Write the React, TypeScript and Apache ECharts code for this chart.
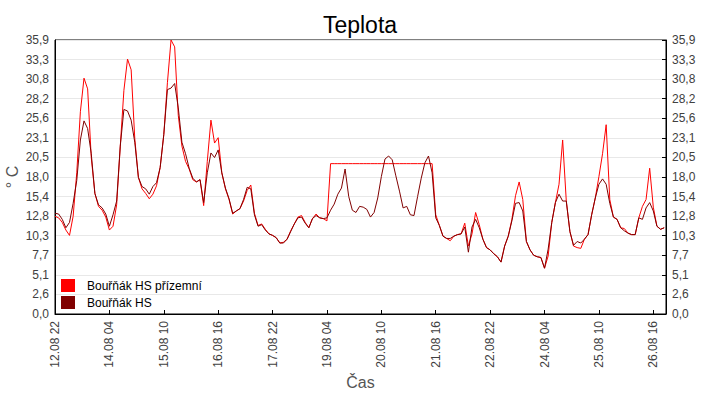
import React, { useEffect, useRef } from 'react'
import * as echarts from 'echarts'

// one reading every 2 hours, first one 12.08 22:00
const STEP_H = 2

const seriesNames = ['Bouřňák HS přízemní', 'Bouřňák HS']
const seriesColors = ['#ff0000', '#800000']

const xTickLabels = [
  '12.08 22', '14.08 04', '15.08 10', '16.08 16', '17.08 22', '19.08 04',
  '20.08 10', '21.08 16', '22.08 22', '24.08 04', '25.08 10', '26.08 16'
]

// Bouřňák HS přízemní
const groundTemp = [
  12.8, 12.6, 12.0, 11.0, 10.3, 12.8, 18.5, 26.5, 30.9, 29.5,
  20.5, 15.8, 14.1, 13.6, 12.7, 11.0, 11.5, 14.3, 22.0, 29.3,
  33.4, 32.0, 23.0, 17.9, 16.4, 15.8, 15.1, 15.7, 16.8, 19.2,
  23.5, 30.3, 35.9, 35.0, 26.0, 22.0, 20.0, 19.0, 17.6, 17.3,
  17.6, 14.2, 20.0, 25.4, 22.4, 23.1, 18.5, 16.4, 15.0, 13.1,
  13.5, 13.8, 14.8, 16.2, 16.9, 13.2, 11.6, 11.8, 11.1, 10.5,
  10.3, 10.0, 9.3, 9.4, 9.8, 10.9, 11.8, 12.7, 12.9, 12.0,
  11.3, 12.5, 13.1, 12.6, 12.5, 12.2, 19.7, 19.7, 19.7, 19.7,
  19.7, 19.7, 19.7, 19.7, 19.7, 19.7, 19.7, 19.7, 19.7, 19.7,
  19.7, 19.7, 19.7, 19.7, 19.7, 19.7, 19.7, 19.7, 19.7, 19.7,
  19.7, 19.7, 19.7, 19.7, 19.7, 13.0, 11.6, 10.2, 9.9, 9.6,
  10.2, 10.4, 10.5, 11.9, 8.9, 10.5, 13.3, 11.7, 9.8, 8.7,
  8.4, 7.9, 7.5, 6.8, 8.9, 10.2, 12.4, 15.5, 17.3, 15.0,
  9.5, 8.4, 7.7, 7.5, 7.4, 6.0, 7.6, 12.0, 14.6, 17.0,
  22.8, 14.8, 10.8, 8.9, 8.7, 8.6, 9.8, 10.4, 13.0, 15.2,
  18.0, 21.0, 24.8, 15.0, 12.7, 12.4, 11.3, 11.2, 10.6, 10.4,
  10.4, 12.6, 14.1, 15.0, 19.1, 14.0, 11.5, 11.1, 11.3
]

// Bouřňák HS
const hsTemp = [
  13.2, 13.1, 12.4, 11.3, 12.0, 14.5, 17.5, 22.8, 25.3, 24.3,
  21.0, 15.8, 14.3, 13.9, 13.1, 11.5, 13.0, 14.8, 22.0, 26.8,
  26.6, 25.4, 22.5, 17.9, 16.7, 16.4, 15.7, 16.7, 17.2, 19.2,
  23.5, 29.4, 29.6, 30.2, 27.0, 22.5, 21.0, 19.1, 17.8, 17.3,
  17.6, 14.6, 18.5, 21.1, 20.5, 21.5, 18.5, 16.5, 15.1, 13.2,
  13.5, 13.8, 15.0, 16.6, 16.4, 13.0, 11.5, 11.7, 11.0, 10.5,
  10.3, 10.0, 9.3, 9.3, 9.8, 10.8, 11.8, 12.6, 12.7, 11.9,
  11.3, 12.5, 12.9, 12.6, 12.5, 12.6, 13.6, 14.4, 15.7, 16.5,
  19.0, 15.4, 13.6, 13.3, 14.1, 14.0, 13.7, 12.7, 13.3, 15.2,
  18.0, 20.3, 20.7, 20.2, 18.1, 16.1, 13.9, 14.1, 13.0, 12.9,
  15.4, 17.8, 19.8, 20.7, 18.5, 12.6, 11.6, 10.2, 9.9, 9.9,
  10.2, 10.4, 10.5, 11.4, 8.1, 11.4, 12.4, 11.3, 9.8, 8.7,
  8.4, 7.9, 7.5, 6.8, 8.9, 10.2, 12.2, 14.5, 14.6, 13.5,
  9.5, 8.4, 7.7, 7.5, 7.4, 6.0, 8.5, 12.0, 14.6, 15.7,
  14.8, 14.8, 10.8, 9.0, 9.5, 9.3, 9.8, 10.4, 13.0, 15.2,
  17.0, 17.7, 17.0, 14.5, 12.7, 12.4, 11.3, 10.9, 10.6, 10.4,
  10.4, 12.6, 12.4, 13.9, 14.6, 13.5, 11.5, 11.1, 11.3
]

const Y_MAX = 35.9
const Y_STEPS = 14
const X_INTERVAL = 30
const X_MAX = 337

const font = 'Liberation Sans, Arial, sans-serif'
const labelColor = '#404040'

const yAxisBase = (position: 'left' | 'right') => ({
  type: 'value',
  position,
  min: 0,
  max: Y_MAX,
  interval: Y_MAX / Y_STEPS,
  axisLine: { show: true, lineStyle: { color: '#000', width: 1 } },
  axisTick: { show: position === 'right', inside: true, length: 4, lineStyle: { color: '#000' } },
  axisLabel: {
    color: labelColor,
    fontFamily: font,
    fontSize: 12,
    margin: 6,
    // 17.95 comes out as 17.9499.. in floats, the original shows 18,0
    formatter: (v: number) => (v + 1e-6).toFixed(1).replace('.', ',')
  },
  splitLine: { show: position === 'left', lineStyle: { color: '#e8e8e8', width: 1 } }
})

const toPoints = (vals: number[]) => vals.map((v, i) => [i * STEP_H, v])

const App: React.FC = () => {
  const chartRef = useRef<HTMLDivElement>(null)

  useEffect(() => {
    document.body.style.margin = '0'
    if (!chartRef.current) return
    const chart = echarts.init(chartRef.current, undefined, { renderer: 'svg' })

    const option = {
      animation: false,
      backgroundColor: '#fff',
      title: {
        text: 'Teplota',
        left: 'center',
        top: 8,
        textStyle: { fontFamily: font, fontSize: 23, fontWeight: 'normal', color: '#000' }
      },
      legend: {
        orient: 'vertical',
        left: 56,
        top: 274,
        itemWidth: 14,
        itemHeight: 13,
        itemGap: 4,
        icon: 'rect',
        data: seriesNames,
        textStyle: { fontFamily: font, fontSize: 12, color: '#000', padding: [0, 0, 0, 7] }
      },
      grid: {
        left: 55,
        right: 54,
        top: 40,
        bottom: 86,
        outerBoundsMode: 'none',
        show: true,
        borderColor: '#000',
        borderWidth: 1,
        backgroundColor: 'transparent'
      },
      xAxis: {
        type: 'value',
        min: 0,
        max: X_MAX,
        interval: X_INTERVAL,
        name: 'Čas',
        nameLocation: 'middle',
        nameGap: 60,
        nameMoveOverlap: false,
        nameTextStyle: { fontFamily: font, fontSize: 16, color: '#555' },
        axisLine: { show: true, lineStyle: { color: '#000' } },
        axisTick: { inside: true, length: 4, lineStyle: { color: '#000' } },
        axisLabel: {
          rotate: 90,
          margin: 7,
          color: labelColor,
          fontFamily: font,
          fontSize: 12,
          showMaxLabel: false,
          formatter: (v: number) => xTickLabels[Math.round(v / X_INTERVAL)] ?? ''
        },
        splitLine: { show: false }
      },
      yAxis: [
        {
          ...yAxisBase('left'),
          name: '° C',
          nameLocation: 'middle',
          nameGap: 35,
          nameRotate: 90,
          nameMoveOverlap: false,
          nameTextStyle: { fontFamily: font, fontSize: 16, color: '#555' }
        },
        yAxisBase('right')
      ],
      series: [
        {
          name: seriesNames[0],
          type: 'line',
          data: toPoints(groundTemp),
          showSymbol: false,
          color: seriesColors[0],
          lineStyle: { width: 1, color: seriesColors[0] }
        },
        {
          name: seriesNames[1],
          type: 'line',
          data: toPoints(hsTemp),
          showSymbol: false,
          color: seriesColors[1],
          lineStyle: { width: 1, color: seriesColors[1] }
        }
      ]
    }

    chart.setOption(option)
    return () => {
      chart.dispose()
    }
  }, [])

  return <div ref={chartRef} style={{ width: 720, height: 400 }} />
}

export default App
